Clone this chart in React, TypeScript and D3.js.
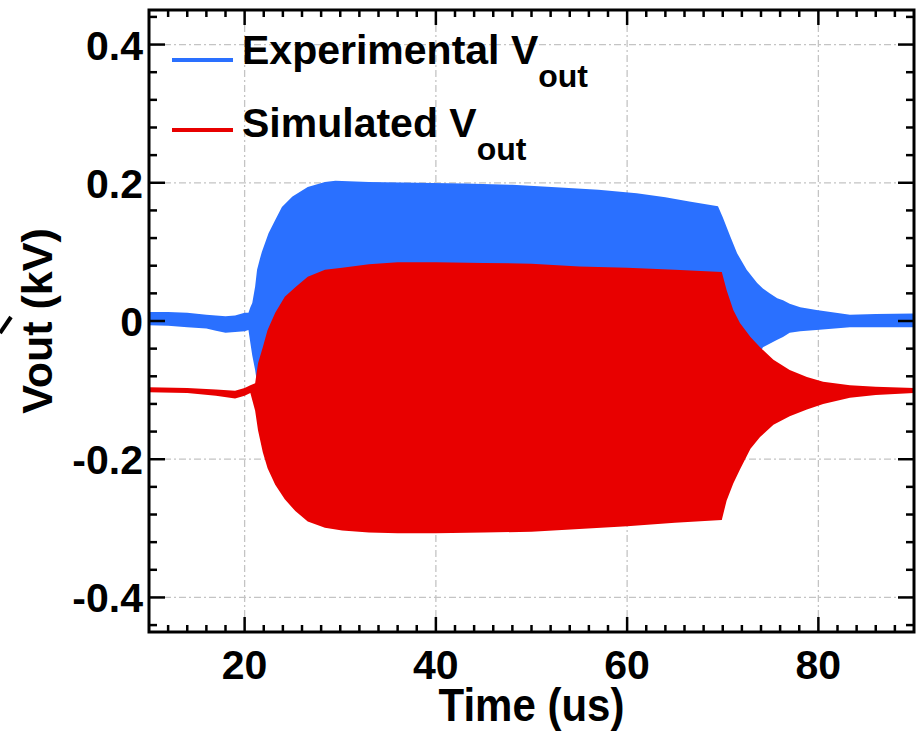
import React from 'react';
import * as d3 from 'd3';

// experimental Vout envelope (kV)
const expTime = [10, 12, 14, 16, 17, 18, 19, 20, 20.4, 20.6, 20.8, 21.1, 21.3, 21.6, 21.8, 22.5, 23.2, 23.9, 25, 26.6, 28.4, 29.5, 33, 38, 43, 48, 53, 57, 61, 64, 66.5, 69.5, 70, 70.8, 71.5, 72.5, 73.6, 74.2, 74.9, 75.7, 76.3, 77, 78.1, 79.8, 83.3, 86, 90];
const expUpper = [0.013, 0.013, 0.012, 0.009, 0.008, 0.007, 0.008, 0.012, 0.012, 0.02, 0.026, 0.05, 0.074, 0.09, 0.1, 0.127, 0.146, 0.165, 0.18, 0.194, 0.201, 0.203, 0.201, 0.2, 0.199, 0.197, 0.193, 0.19, 0.185, 0.179, 0.173, 0.166, 0.15, 0.122, 0.098, 0.074, 0.055, 0.047, 0.04, 0.033, 0.03, 0.025, 0.02, 0.016, 0.009, 0.01, 0.011];
const expLower = [-0.006, -0.007, -0.009, -0.011, -0.014, -0.017, -0.016, -0.015, -0.013, -0.032, -0.05, -0.071, -0.09, -0.13, -0.15, -0.15, -0.15, -0.15, -0.15, -0.15, -0.15, -0.15, -0.15, -0.15, -0.15, -0.15, -0.15, -0.15, -0.15, -0.15, -0.15, -0.15, -0.15, -0.14, -0.12, -0.09, -0.055, -0.038, -0.033, -0.027, -0.023, -0.017, -0.015, -0.013, -0.009, -0.009, -0.009];

// simulated Vout envelope (kV)
const simTime = [10, 14, 17, 19, 20, 20.6, 21.1, 21.4, 21.9, 22.4, 23.2, 24.2, 25.3, 26.6, 28.4, 30.2, 33, 36, 40, 45, 50, 55, 60, 65, 69.9, 70.4, 71.1, 71.8, 72.9, 73.9, 75.3, 77, 78.8, 80.5, 83.3, 86, 90];
const simUpper = [-0.096, -0.097, -0.099, -0.101, -0.097, -0.093, -0.09, -0.061, -0.038, -0.013, 0.012, 0.035, 0.049, 0.064, 0.074, 0.077, 0.082, 0.085, 0.085, 0.084, 0.083, 0.079, 0.077, 0.074, 0.071, 0.045, 0.016, -0.003, -0.023, -0.038, -0.056, -0.071, -0.081, -0.088, -0.093, -0.095, -0.097];
const simLower = [-0.103, -0.104, -0.108, -0.112, -0.108, -0.104, -0.13, -0.158, -0.19, -0.213, -0.237, -0.258, -0.275, -0.29, -0.299, -0.303, -0.306, -0.307, -0.307, -0.306, -0.305, -0.301, -0.297, -0.292, -0.288, -0.26, -0.235, -0.215, -0.185, -0.168, -0.15, -0.138, -0.128, -0.12, -0.111, -0.107, -0.104];

const xTickValues = [20, 40, 60, 80];
const xTickLabels = ['20', '40', '60', '80'];
const yTickValues = [0.4, 0.2, 0, -0.2, -0.4];
const yTickLabels = ['0.4', '0.2', '0', '-0.2', '-0.4'];
const seriesNames = ['Experimental V', 'Simulated V'];
const seriesColors = ['#2a70ff', '#e80000'];

const App = () => {
    const width = 920;
    const height = 731;
    const left = 149, right = 914, top = 10, bottom = 632;
    const font = '"Liberation Sans", Arial, sans-serif';

    const x = d3.scaleLinear().domain([10, 90]).range([left, right]);
    const y = d3.scaleLinear().domain([-0.45, 0.45]).range([bottom, top]);

    const xMinor = d3.range(12, 90, 2).filter(v => v % 20 !== 0);
    const yMinor = d3.range(-44, 45, 4).map(v => v / 100).filter(v => Math.abs(Math.round(v * 100) % 20) !== 0);

    const makeArea = (t, hi, lo) =>
        d3.area()
            .x((d, i) => x(t[i]))
            .y0((d, i) => y(lo[i]))
            .y1((d, i) => y(hi[i]))(t);

    const expPath = makeArea(expTime, expUpper, expLower);
    const simPath = makeArea(simTime, simUpper, simLower);

    const tick = { stroke: 'black', strokeWidth: 2.5 };
    const grid = { stroke: '#c4c4c4', strokeWidth: 1.3, strokeDasharray: '7,3,2,3' };

    return (
        <svg width={width} height={height} style={{ position: 'absolute', left: 0, top: 0, background: 'white' }}>
            {/* grid */}
            {xTickValues.map(v => (
                <line key={'gx' + v} x1={x(v)} x2={x(v)} y1={top} y2={bottom} {...grid} />
            ))}
            {yTickValues.map(v => (
                <line key={'gy' + v} x1={left} x2={right} y1={y(v)} y2={y(v)} {...grid} />
            ))}

            {/* data */}
            <path d={expPath} fill={seriesColors[0]} />
            <path d={simPath} fill={seriesColors[1]} />

            {/* ticks, inward on all four sides */}
            {xTickValues.map(v => (
                <g key={'tx' + v}>
                    <line x1={x(v)} x2={x(v)} y1={bottom} y2={bottom - 15} {...tick} />
                    <line x1={x(v)} x2={x(v)} y1={top} y2={top + 15} {...tick} />
                </g>
            ))}
            {xMinor.map(v => (
                <g key={'mx' + v}>
                    <line x1={x(v)} x2={x(v)} y1={bottom} y2={bottom - 7} {...tick} />
                    <line x1={x(v)} x2={x(v)} y1={top} y2={top + 7} {...tick} />
                </g>
            ))}
            {yTickValues.map(v => (
                <g key={'ty' + v}>
                    <line x1={left} x2={left + 16} y1={y(v)} y2={y(v)} {...tick} />
                    <line x1={right} x2={right - 16} y1={y(v)} y2={y(v)} {...tick} />
                </g>
            ))}
            {yMinor.map(v => (
                <g key={'my' + v}>
                    <line x1={left} x2={left + 8} y1={y(v)} y2={y(v)} {...tick} />
                    <line x1={right} x2={right - 8} y1={y(v)} y2={y(v)} {...tick} />
                </g>
            ))}

            <rect x={left} y={top} width={right - left} height={bottom - top}
                fill="none" stroke="black" strokeWidth={3} />

            {/* tick labels */}
            <g fontFamily={font} fontWeight="bold" fontSize={41} fill="black">
                {xTickValues.map((v, i) => (
                    <text key={'lx' + v} x={x(v)} y={679} textAnchor="middle">{xTickLabels[i]}</text>
                ))}
                {yTickValues.map((v, i) => (
                    <text key={'ly' + v} x={left - 6} y={y(v) + 15} textAnchor="end">{yTickLabels[i]}</text>
                ))}
            </g>

            {/* axis titles */}
            <text transform={`translate(${(left + right) / 2}, 721) scale(1, 1.12)`} textAnchor="middle"
                fontFamily={font} fontWeight="bold" fontSize={42}>Time (us)</text>
            <text transform={`translate(52, ${(top + bottom) / 2}) rotate(-90)`} textAnchor="middle"
                fontFamily={font} fontWeight="bold" fontSize={43}>Vout (kV)</text>

            {/* legend */}
            {seriesNames.map((name, i) => (
                <g key={name}>
                    <line x1={172} x2={233} y1={60 + i * 70} y2={60 + i * 70}
                        stroke={seriesColors[i]} strokeWidth={4} />
                    <text x={242} y={64 + i * 73} fontFamily={font} fontWeight="bold" fontSize={41}>
                        {name}
                        <tspan dy={23} fontSize={32}>out</tspan>
                    </text>
                </g>
            ))}

            {/* stray mark at the left edge */}
            <line x1={0} y1={333} x2={11} y2={317} stroke="black" strokeWidth={4} />
        </svg>
    );
};

export default App;
